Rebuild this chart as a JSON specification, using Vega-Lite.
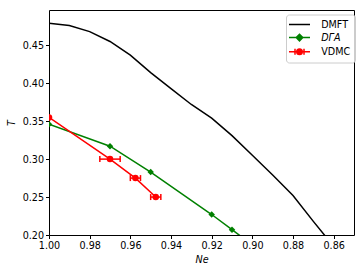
{
  "$schema": "https://vega.github.io/schema/vega-lite/v6.json",
  "width": 305,
  "height": 225,
  "autosize": "none",
  "padding": {"left": 49, "top": 10, "right": 10, "bottom": 38},
  "background": "white",
  "data": {
    "values": [
      {"s": "DMFT", "Ne": 1.000, "T": 0.479},
      {"s": "DMFT", "Ne": 0.990, "T": 0.476},
      {"s": "DMFT", "Ne": 0.980, "T": 0.468},
      {"s": "DMFT", "Ne": 0.970, "T": 0.455},
      {"s": "DMFT", "Ne": 0.960, "T": 0.437},
      {"s": "DMFT", "Ne": 0.950, "T": 0.414},
      {"s": "DMFT", "Ne": 0.940, "T": 0.393},
      {"s": "DMFT", "Ne": 0.930, "T": 0.372},
      {"s": "DMFT", "Ne": 0.920, "T": 0.354},
      {"s": "DMFT", "Ne": 0.910, "T": 0.331},
      {"s": "DMFT", "Ne": 0.900, "T": 0.305},
      {"s": "DMFT", "Ne": 0.890, "T": 0.279},
      {"s": "DMFT", "Ne": 0.880, "T": 0.252},
      {"s": "DMFT", "Ne": 0.870, "T": 0.218},
      {"s": "DMFT", "Ne": 0.860, "T": 0.185},
      {"s": "DΓA", "Ne": 1.00, "T": 0.346},
      {"s": "DΓA", "Ne": 0.97, "T": 0.317},
      {"s": "DΓA", "Ne": 0.95, "T": 0.283},
      {"s": "DΓA", "Ne": 0.92, "T": 0.227},
      {"s": "DΓA", "Ne": 0.91, "T": 0.207},
      {"s": "DΓA", "Ne": 0.90, "T": 0.187},
      {"s": "VDMC", "Ne": 1.000, "T": 0.355, "lo": 1.000, "hi": 1.000},
      {"s": "VDMC", "Ne": 0.970, "T": 0.300, "lo": 0.965, "hi": 0.975},
      {"s": "VDMC", "Ne": 0.9575, "T": 0.275, "lo": 0.955, "hi": 0.960},
      {"s": "VDMC", "Ne": 0.9475, "T": 0.250, "lo": 0.945, "hi": 0.950}
    ]
  },
  "encoding": {
    "x": {
      "field": "Ne", "type": "quantitative", "title": "Ne",
      "scale": {"domain": [0.85, 1.0], "reverse": true, "nice": false, "zero": false},
      "axis": {"values": [0.86, 0.88, 0.9, 0.92, 0.94, 0.96, 0.98, 1.0], "format": ".2f", "titlePadding": 4}
    },
    "y": {
      "field": "T", "type": "quantitative", "title": "T",
      "scale": {"domain": [0.2, 0.4965], "nice": false, "zero": false},
      "axis": {"values": [0.2, 0.25, 0.3, 0.35, 0.4, 0.45], "format": ".2f", "titlePadding": 6}
    }
  },
  "layer": [
    {
      "mark": {"type": "line", "strokeWidth": 1.5, "clip": true},
      "encoding": {
        "color": {
          "field": "s", "type": "nominal",
          "scale": {"domain": ["DMFT", "DΓA", "VDMC"], "range": ["#000000", "#008000", "#ff0000"]},
          "legend": {
            "title": null,
            "orient": "none",
            "legendX": 237,
            "legendY": 4.5,
            "padding": 4,
            "symbolSize": 100,
            "symbolOffset": 3.5,
            "labelOffset": 15.7,
            "rowPadding": 1.1,
            "strokeColor": "#cccccc",
            "cornerRadius": 3,
            "fillColor": "rgba(255,255,255,0.8)",
            "labelFont": "DejaVu Sans",
            "labelFontSize": 9.6,
            "labelColor": "black",
            "encode": {
              "symbols": {
                "update": {
                  "shape": {"signal": "datum.value === 'DMFT' ? 'M-2.1,0L2.1,0' : datum.value === 'VDMC' ? 'M-2.1,0L2.1,0M-0.9,-0.6L-0.9,0.6M0.9,-0.6L0.9,0.6M0.55,0A0.55,0.55 0 1,1 -0.55,0A0.55,0.55 0 1,1 0.55,0Z' : 'M-2.1,0L2.1,0M0,-0.65L0.65,0L0,0.65L-0.65,0Z'"},
                  "fill": {"signal": "datum.value === 'DMFT' ? 'transparent' : datum.value === 'VDMC' ? '#ff0000' : '#008000'"},
                  "stroke": {"signal": "datum.value === 'DMFT' ? '#000000' : datum.value === 'VDMC' ? '#ff0000' : '#008000'"},
                  "strokeWidth": {"value": 1.5},
                  "opacity": {"value": 1}
                }
              },
              "labels": {
                "update": {
                  "fontStyle": {"signal": "datum.value === 'DΓA' ? 'italic' : 'normal'"}
                }
              }
            }
          }
        }
      }
    },
    {
      "transform": [{"filter": "datum.s === 'VDMC'"}],
      "mark": {"type": "rule", "strokeWidth": 1.5, "clip": true, "color": "#ff0000"},
      "encoding": {
        "x": {"field": "lo", "type": "quantitative"},
        "x2": {"field": "hi"}
      }
    },
    {
      "transform": [{"filter": "datum.s === 'VDMC'"}, {"fold": ["lo", "hi"], "as": ["side", "Nx"]}],
      "mark": {"type": "point", "shape": "M0,-1L0,1", "size": 36, "filled": false, "strokeWidth": 1.5, "clip": true, "color": "#ff0000", "opacity": 1},
      "encoding": {
        "x": {"field": "Nx", "type": "quantitative"}
      }
    },
    {
      "transform": [{"filter": "datum.s !== 'DMFT'"}],
      "mark": {"type": "point", "filled": true, "size": 42, "clip": true, "opacity": 1},
      "encoding": {
        "shape": {"field": "s", "type": "nominal", "scale": {"domain": ["DΓA", "VDMC"], "range": ["diamond", "circle"]}, "legend": null},
        "color": {"field": "s", "type": "nominal", "legend": null}
      }
    }
  ],
  "config": {
    "view": {"stroke": "black", "strokeWidth": 1},
    "axis": {
      "domain": false,
      "grid": false,
      "ticks": true,
      "tickColor": "black",
      "tickSize": 3.5,
      "tickWidth": 1,
      "labelFont": "DejaVu Sans",
      "labelFontSize": 9.6,
      "labelColor": "black",
      "labelPadding": 2,
      "labelFlush": false,
      "labelOverlap": false,
      "titleFont": "DejaVu Sans",
      "titleFontSize": 9.6,
      "titleFontStyle": "italic",
      "titleFontWeight": "normal",
      "titleColor": "black"
    }
  }
}
